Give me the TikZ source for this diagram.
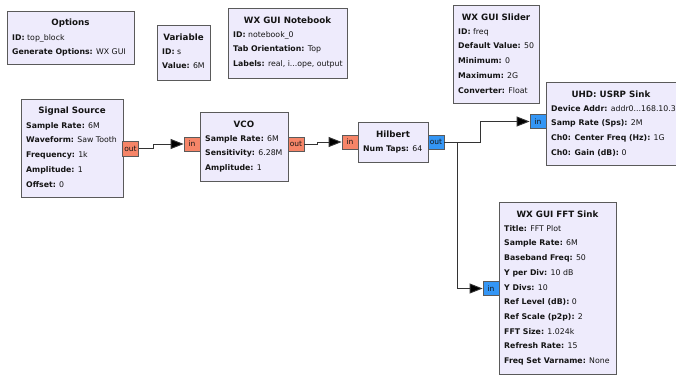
\documentclass[tikz,border=0pt]{standalone}
\usepackage{fontspec}
\setmainfont{DejaVu Sans}
\usetikzlibrary{arrows.meta,calc,fit}
\definecolor{blkfill}{RGB}{238,235,252}
\definecolor{blkdraw}{RGB}{90,90,90}
\definecolor{fport}{RGB}{246,133,104}
\definecolor{cport}{RGB}{52,150,245}
\definecolor{txt}{RGB}{20,20,20}
\tikzset{
  blockbox/.style={draw=blkdraw, fill=blkfill, line width=1pt, inner sep=0pt, rectangle},
  titletext/.style={font=\fontsize{8.7}{10}\selectfont\bfseries, text=txt, inner sep=0pt},
  bodytext/.style={font=\fontsize{7.8}{14.7}\selectfont, text=txt, inner sep=0pt, align=left, anchor=north west},
  portbase/.style={draw=blkdraw, line width=0.8pt, minimum width=16pt, minimum height=14pt, inner sep=0pt, font=\fontsize{7.5}{8}\selectfont, text=txt},
  fltport/.style={portbase, fill=fport},
  cpxport/.style={portbase, fill=cport},
  wire/.style={draw=black!80, line width=0.9pt, -{Triangle[length=13pt,width=10pt,fill=black]}},
}
\newcommand\grcblock[7]{%
  \node[blockbox, fit={(#2,#3) (#4,#5)}] (#1) {};
  \node[titletext] (#1-t) at ($(#1.north)+(0,12.5)$) {#6};
  \node[bodytext] (#1-b) at ($(#1.north west)+(5.5,23.5)$) {\rule{0pt}{6pt}#7};
}
\begin{document}
\begin{tikzpicture}[x=1pt,y=-1pt]
\useasboundingbox[fill=white] (0,0) rectangle (676,375);

\grcblock{opt}{7}{11}{134}{64}{Options}{\textbf{ID:} top\_block\\\textbf{Generate Options:} WX GUI}
\grcblock{var}{157}{25}{210}{80}{Variable}{\textbf{ID:} s\\\textbf{Value:} 6M}
\grcblock{nb}{228}{8}{347}{78}{WX GUI Notebook}{\textbf{ID:} notebook\_0\\\textbf{Tab Orientation:} Top\\\textbf{Labels:} real, i...ope, output}
\grcblock{sl}{453}{5}{539}{103}{WX GUI Slider}{\textbf{ID:} freq\\\textbf{Default Value:} 50\\\textbf{Minimum:} 0\\\textbf{Maximum:} 2G\\\textbf{Converter:} Float}
\grcblock{usrp}{546}{82}{676}{165}{UHD: USRP Sink}{\textbf{Device Addr:} addr0...168.10.3\\\textbf{Samp Rate (Sps):} 2M\\\textbf{Ch0: Center Freq (Hz):} 1G\\\textbf{Ch0: Gain (dB):} 0}
\grcblock{src}{21}{99}{123}{197}{Signal Source}{\textbf{Sample Rate:} 6M\\\textbf{Waveform:} Saw Tooth\\\textbf{Frequency:} 1k\\\textbf{Amplitude:} 1\\\textbf{Offset:} 0}
\grcblock{vco}{200}{112}{288}{181}{VCO}{\textbf{Sample Rate:} 6M\\\textbf{Sensitivity:} 6.28M\\\textbf{Amplitude:} 1}
\grcblock{hil}{358}{122}{428}{162}{Hilbert}{\textbf{Num Taps:} 64}
\grcblock{fft}{499}{202}{616}{374}{WX GUI FFT Sink}{\textbf{Title:} FFT Plot\\\textbf{Sample Rate:} 6M\\\textbf{Baseband Freq:} 50\\\textbf{Y per Div:} 10 dB\\\textbf{Y Divs:} 10\\\textbf{Ref Level (dB):} 0\\\textbf{Ref Scale (p2p):} 2\\\textbf{FFT Size:} 1.024k\\\textbf{Refresh Rate:} 15\\\textbf{Freq Set Varname:} None}

% ports
\node[fltport, minimum height=15pt] (srcout) at (130.5,148.5) {out};
\node[fltport] (vcoin) at (192,144) {in};
\node[fltport] (vcoout) at (296,144) {out};
\node[fltport] (hilin) at (350,142) {in};
\node[cpxport] (hilout) at (436,142) {out};
\node[cpxport] (usrpin) at (538,121.5) {in};
\node[cpxport] (fftin) at (491,288.5) {in};

% connectors
\draw[wire] (srcout.east) -- ++(15,0) |- (vcoin.west);
\draw[wire] (vcoout.east) -- ++(13,0) |- (hilin.west);
\coordinate (split) at (457,142);
\draw[wire] (hilout.east) -- (480,142) |- (usrpin.west);
\draw[wire] (split) |- (fftin.west);
\end{tikzpicture}
\end{document}
